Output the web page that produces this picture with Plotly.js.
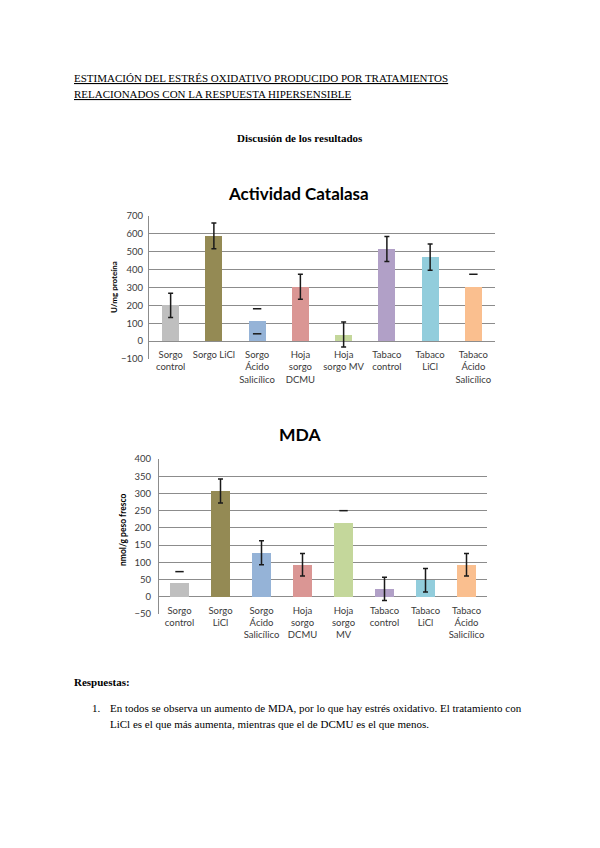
<!DOCTYPE html>
<html><head><meta charset="utf-8">
<script src="https://cdn.plot.ly/plotly-3.0.1.min.js"></script>
<style>html,body{margin:0;padding:0;background:#fff}#g{width:600px;height:848px}</style>
</head><body><div id="g"></div>
<script>
// Chart 1: Actividad Catalasa
const catLabels = ["Sorgo<br>control","Sorgo LiCl","Sorgo<br>Ácido<br>Salicílico","Hoja<br>sorgo<br>DCMU","Hoja<br>sorgo MV","Tabaco<br>control","Tabaco<br>LiCl","Tabaco<br>Ácido<br>Salicílico"];
const catValues = [200, 589, 111, 304, 37, 515, 470, 304];
const catErrors = [68, 72, 70, 70, 70, 70, 73, 70];
const catStemIdx = [0, 1, 3, 4, 5, 6];   // error bars drawn with stem
const catCapTopIdx = [2, 7];             // only upper cap visible
const catCapBotIdx = [2];                // only lower cap visible

// Chart 2: MDA
const mdaLabels = ["Sorgo<br>control","Sorgo<br>LiCl","Sorgo<br>Ácido<br>Salicílico","Hoja<br>sorgo<br>DCMU","Hoja<br>sorgo<br>MV","Tabaco<br>control","Tabaco<br>LiCl","Tabaco<br>Ácido<br>Salicílico"];
const mdaValues = [40, 307, 128, 93, 215, 23, 48, 93];
const mdaErrors = [33, 35, 35, 33, 35, 34, 34, 33];
const mdaStemIdx = [1, 2, 3, 5, 6, 7];
const mdaCapTopIdx = [0, 4];
const mdaCapBotIdx = [];

const colors = ["#BFBFBF","#948A54","#95B3D7","#DA9694","#C4D79B","#B1A0C7","#92CDDC","#FABF8F"];

const W = 600, H = 848;
const px = x => x / W;
const py = y => 1 - y / H;

function chartTraces(labels, vals, errs, stemIdx, capTop, capBot, xa, ya, bw) {
  const t = [];
  t.push({type:'bar', x:labels, y:vals, marker:{color:colors}, width:bw,
          xaxis:xa, yaxis:ya, hoverinfo:'skip', showlegend:false});
  t.push({type:'scatter', mode:'markers', x:stemIdx.map(i=>labels[i]), y:stemIdx.map(i=>vals[i]),
          marker:{size:1, opacity:0}, xaxis:xa, yaxis:ya, showlegend:false, hoverinfo:'skip',
          error_y:{type:'data', array:stemIdx.map(i=>errs[i]), visible:true, color:'#1a1a1a', thickness:1.5, width:2.5}});
  const capX = capTop.map(i=>labels[i]).concat(capBot.map(i=>labels[i]));
  const capY = capTop.map(i=>vals[i]+errs[i]).concat(capBot.map(i=>vals[i]-errs[i]));
  if (capX.length) t.push({type:'scatter', mode:'markers', x:capX, y:capY,
          marker:{symbol:'line-ew', size:6, line:{color:'#1a1a1a', width:1.5}},
          xaxis:xa, yaxis:ya, showlegend:false, hoverinfo:'skip'});
  return t;
}

const data = [].concat(
  chartTraces(catLabels, catValues, catErrors, catStemIdx, catCapTopIdx, catCapBotIdx, 'x', 'y', 0.39),
  chartTraces(mdaLabels, mdaValues, mdaErrors, mdaStemIdx, mdaCapTopIdx, mdaCapBotIdx, 'x2', 'y2', 0.44)
);

const tickFont = {family:'Lato, "Liberation Sans", sans-serif', size:9.5, color:'#3a3a3a'};
const serif = '"Liberation Serif", "Times New Roman", serif';
const docFont = {family:serif, size:11, color:'#000'};

const layout = {
  width:W, height:H, margin:{l:0,r:0,t:0,b:0},
  paper_bgcolor:'#ffffff', plot_bgcolor:'rgba(0,0,0,0)', showlegend:false, bargap:0,
  xaxis:{domain:[px(149), px(495)], anchor:'free', position:py(341.5), showgrid:false, showline:false,
         zeroline:false, ticks:'', tickfont:tickFont, tickangle:0, ticklabelstandoff:6, fixedrange:true},
  yaxis:{domain:[py(359), py(216)], range:[-100,700], dtick:100, tick0:0, showgrid:true, gridcolor:'#8c8c8c',
         gridwidth:1, zeroline:false, showline:true, linecolor:'#8c8c8c', linewidth:1, ticks:'',
         tickfont:tickFont, ticklabelstandoff:3, anchor:'x'},
  xaxis2:{domain:[px(159), px(487)], anchor:'free', position:py(597), showgrid:false, showline:false,
         zeroline:false, ticks:'', tickfont:tickFont, tickangle:0, ticklabelstandoff:6, fixedrange:true},
  yaxis2:{domain:[py(614), py(459)], range:[-50,400], dtick:50, tick0:0, showgrid:true, gridcolor:'#8c8c8c',
         gridwidth:1, zeroline:false, showline:true, linecolor:'#8c8c8c', linewidth:1, ticks:'',
         tickfont:tickFont, ticklabelstandoff:5, anchor:'x2'},
  annotations:[
    {text:'<u>ESTIMACIÓN DEL ESTRÉS OXIDATIVO PRODUCIDO POR TRATAMIENTOS</u>', x:px(72), y:py(78), xanchor:'left', yanchor:'middle',
     xref:'paper', yref:'paper', showarrow:false, font:docFont},
    {text:'<u>RELACIONADOS CON LA RESPUESTA HIPERSENSIBLE</u>', x:px(72), y:py(94), xanchor:'left', yanchor:'middle',
     xref:'paper', yref:'paper', showarrow:false, font:docFont},
    {text:'<b>Discusión de los resultados</b>', x:px(300), y:py(138), xanchor:'center', yanchor:'middle',
     xref:'paper', yref:'paper', showarrow:false, font:docFont},
    {text:'<b>Actividad Catalasa</b>', x:px(298), y:py(193), xanchor:'center', yanchor:'middle',
     xref:'paper', yref:'paper', showarrow:false, font:{family:'Lato, sans-serif', size:17, color:'#000'}},
    {text:'<b>U/mg proteína</b>', x:px(114), y:py(287), xanchor:'center', yanchor:'middle', textangle:-90,
     xref:'paper', yref:'paper', showarrow:false, font:{family:'Lato, sans-serif', size:8, color:'#000'}},
    {text:'<b>MDA</b>', x:px(300), y:py(434), xanchor:'center', yanchor:'middle',
     xref:'paper', yref:'paper', showarrow:false, font:{family:'Lato, sans-serif', size:17.5, color:'#000'}},
    {text:'<b>nmol/g peso fresco</b>', x:px(123), y:py(530), xanchor:'center', yanchor:'middle', textangle:-90,
     xref:'paper', yref:'paper', showarrow:false, font:{family:'Lato, sans-serif', size:8.5, color:'#000'}},
    {text:'<b>Respuestas:</b>', x:px(72), y:py(682), xanchor:'left', yanchor:'middle',
     xref:'paper', yref:'paper', showarrow:false, font:docFont},
    {text:'1.', x:px(90), y:py(708), xanchor:'left', yanchor:'middle',
     xref:'paper', yref:'paper', showarrow:false, font:docFont},
    {text:'En todos se observa un aumento de MDA, por lo que hay estrés oxidativo. El tratamiento con', x:px(108), y:py(708), xanchor:'left', yanchor:'middle',
     xref:'paper', yref:'paper', showarrow:false, font:docFont},
    {text:'LiCl es el que más aumenta, mientras que el de DCMU es el que menos.', x:px(108), y:py(724), xanchor:'left', yanchor:'middle',
     xref:'paper', yref:'paper', showarrow:false, font:docFont}
  ]
};

Plotly.newPlot('g', data, layout, {staticPlot:true, displayModeBar:false});
</script></body></html>
